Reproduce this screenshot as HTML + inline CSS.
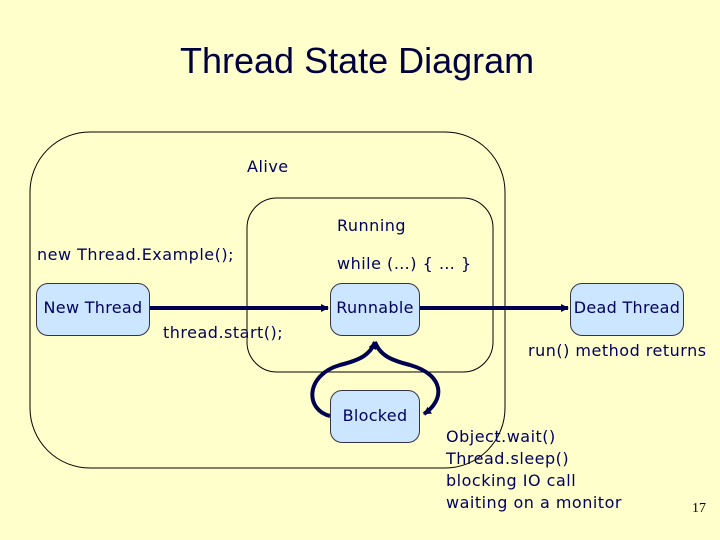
<!DOCTYPE html>
<html><head><style>
body{margin:0;width:720px;height:540px;background:#ffffcc;overflow:hidden;position:relative;font-family:"DejaVu Sans","Liberation Sans",sans-serif;color:#000060}
.t{position:absolute;font-size:16px;white-space:nowrap;letter-spacing:0.5px}
.b{position:absolute;background:#cce6ff;border:1px solid #334;border-radius:12px;box-sizing:border-box;font-size:16px;display:flex;align-items:center;justify-content:center;letter-spacing:0.3px}
</style></head><body>
<div class="t" style="left:180px;top:40px;font-size:36px;font-family:'Liberation Sans',sans-serif;color:#000040;letter-spacing:0">Thread State Diagram</div>
<svg width="720" height="540" style="position:absolute;left:0;top:0">
<rect x="30" y="132" width="475" height="336" rx="60" fill="none" stroke="#000" stroke-width="1"/>
<rect x="247" y="198" width="246" height="174" rx="30" fill="none" stroke="#000" stroke-width="1"/>
<defs><marker id="a" markerWidth="8" markerHeight="8" refX="7" refY="4" orient="auto" markerUnits="userSpaceOnUse"><path d="M0,0 L8,4 L0,8 z" fill="#000050"/></marker></defs>
<g stroke="#000050" stroke-width="4" fill="none">
<line x1="150" y1="308" x2="328" y2="308" marker-end="url(#a)"/>
<line x1="420" y1="308" x2="568" y2="308" marker-end="url(#a)"/>
<path d="M330,416 C305,410 305,375 340,365 C360,360 370,355 375,342" marker-end="url(#a)"/>
<path d="M375,342 C380,355 390,360 410,365 C445,375 445,400 424,414" marker-end="url(#a)"/>
</g>
</svg>
<div class="t" style="left:247px;top:157px">Alive</div>
<div class="t" style="left:337px;top:216px">Running</div>
<div class="t" style="left:37px;top:245px">new Thread.Example();</div>
<div class="t" style="left:337px;top:254px">while (…) { … }</div>
<div class="b" style="left:36px;top:283px;width:114px;height:53px;align-items:flex-start;padding-top:14px">New Thread</div>
<div class="b" style="left:330px;top:283px;width:90px;height:53px;align-items:flex-start;padding-top:14px">Runnable</div>
<div class="b" style="left:570px;top:283px;width:114px;height:53px;align-items:flex-start;padding-top:14px">Dead Thread</div>
<div class="b" style="left:330px;top:390px;width:90px;height:53px;align-items:flex-start;padding-top:15px">Blocked</div>
<div class="t" style="left:163px;top:323px">thread.start();</div>
<div class="t" style="left:528px;top:341px">run() method returns</div>
<div class="t" style="left:446px;top:426px;line-height:22px">Object.wait()<br>Thread.sleep()<br>blocking IO call<br>waiting on a monitor</div>
<div class="t" style="left:692px;top:501px;font-size:14px;font-family:'Liberation Serif',serif;color:#000;letter-spacing:0">17</div>
</body></html>
